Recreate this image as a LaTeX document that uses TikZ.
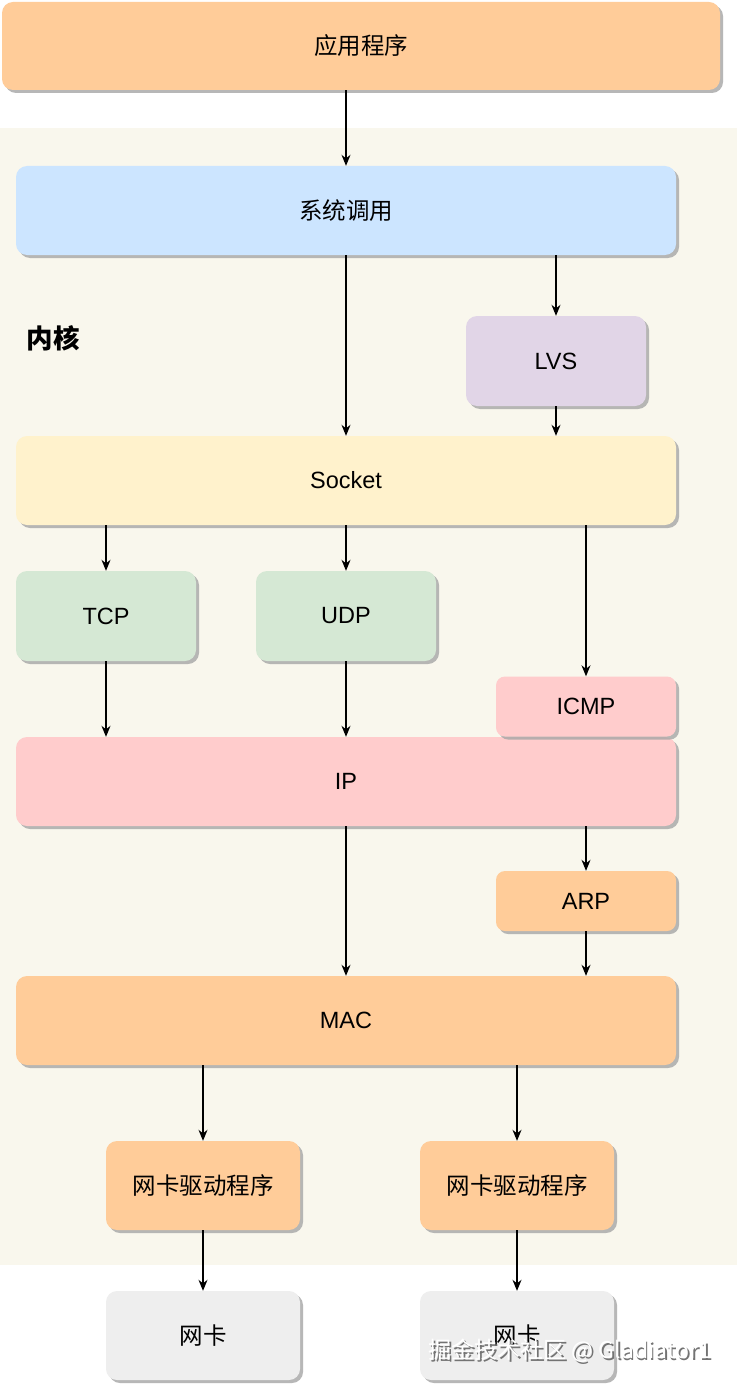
\documentclass[tikz,border=0pt]{standalone}
\usepackage{fontspec}
\setmainfont{Liberation Sans}
\newfontfamily\cjk{Noto Sans CJK SC}
\usetikzlibrary{shadows,arrows.meta}
\definecolor{cOrange}{HTML}{FFCC99}
\definecolor{cBlue}{HTML}{CCE5FF}
\definecolor{cPurple}{HTML}{E1D5E7}
\definecolor{cYellow}{HTML}{FFF2CC}
\definecolor{cGreen}{HTML}{D5E8D4}
\definecolor{cPink}{HTML}{FFCCCC}
\definecolor{cGrey}{HTML}{EEEEEE}
\definecolor{cBg}{HTML}{F9F7ED}
\begin{document}
\begin{tikzpicture}[x=1pt,y=-1pt,
  box/.style={rounded corners=11pt, inner sep=0pt, font=\fontsize{23.5}{28}\selectfont,
    drop shadow={shadow xshift=3pt, shadow yshift=-3pt, fill=black!35, opacity=0.8}},
  arr/.style={-{Stealth[length=11pt,width=9pt]}, line width=1.1pt, black}]
\useasboundingbox (0,0) rectangle (737,1388);
\fill[white] (0,0) rectangle (737,1388);
\fill[cBg] (0,128) rectangle (737,1265);

\node[box, fill=cOrange, minimum width=718pt, minimum height=88pt] (app) at (361,46) {\cjk 应用程序};
\node[box, fill=cBlue, minimum width=660pt, minimum height=89pt] (sys) at (346,210.5) {\cjk 系统调用};
\node[font=\cjk\bfseries\fontsize{26.5}{30}\selectfont] (kern) at (53,338) {内核};
\node[box, fill=cPurple, minimum width=180pt, minimum height=90pt] (lvs) at (556,361) {LVS};
\node[box, fill=cYellow, minimum width=660pt, minimum height=89pt] (sock) at (346,480.5) {Socket};
\node[box, fill=cGreen, minimum width=180pt, minimum height=90pt] (tcp) at (106,616) {TCP};
\node[box, fill=cGreen, minimum width=180pt, minimum height=90pt] (udp) at (346,616) {UDP};
\node[box, fill=cPink, minimum width=660pt, minimum height=89pt] (ip) at (346,781.5) {IP};
\node[box, rounded corners=9pt, fill=cPink, minimum width=180pt, minimum height=60pt] (icmp) at (586,706.5) {ICMP};
\node[box, rounded corners=9pt, fill=cOrange, minimum width=180pt, minimum height=60pt] (arp) at (586,901) {ARP};
\node[box, fill=cOrange, minimum width=660pt, minimum height=89pt] (mac) at (346,1020.5) {MAC};
\node[box, fill=cOrange, minimum width=194pt, minimum height=89pt] (drv1) at (203,1185.5) {\cjk 网卡驱动程序};
\node[box, fill=cOrange, minimum width=194pt, minimum height=89pt] (drv2) at (517,1185.5) {\cjk 网卡驱动程序};
\node[box, fill=cGrey, minimum width=194pt, minimum height=89pt] (nic1) at (203,1335.5) {\cjk 网卡};
\node[box, fill=cGrey, minimum width=194pt, minimum height=89pt] (nic2) at (517,1335.5) {\cjk 网卡};

\draw[arr] (app.south -| sys) -- (sys.north);
\draw[arr] (sys.south) -- (sock.north);
\draw[arr] (sys.south -| lvs) -- (lvs.north);
\draw[arr] (lvs.south) -- (sock.north -| lvs);
\draw[arr] (sock.south -| tcp) -- (tcp.north);
\draw[arr] (sock.south -| udp) -- (udp.north);
\draw[arr] (sock.south -| icmp) -- (icmp.north);
\draw[arr] (tcp.south) -- (ip.north -| tcp);
\draw[arr] (udp.south) -- (ip.north -| udp);
\draw[arr] (ip.south -| arp) -- (arp.north);
\draw[arr] (ip.south) -- (mac.north);
\draw[arr] (arp.south) -- (mac.north -| arp);
\draw[arr] (mac.south -| drv1) -- (drv1.north);
\draw[arr] (mac.south -| drv2) -- (drv2.north);
\draw[arr] (drv1.south) -- (nic1.north);
\draw[arr] (drv2.south) -- (nic2.north);

\node[font=\cjk\fontsize{23}{27}\selectfont, text=black!55] (wmS) at (571.5,1352.5) {掘金技术社区 @ Gladiator1};
\node[font=\cjk\fontsize{23}{27}\selectfont, text=white] (wm) at (570,1351) {掘金技术社区 @ Gladiator1};
\end{tikzpicture}
\end{document}
